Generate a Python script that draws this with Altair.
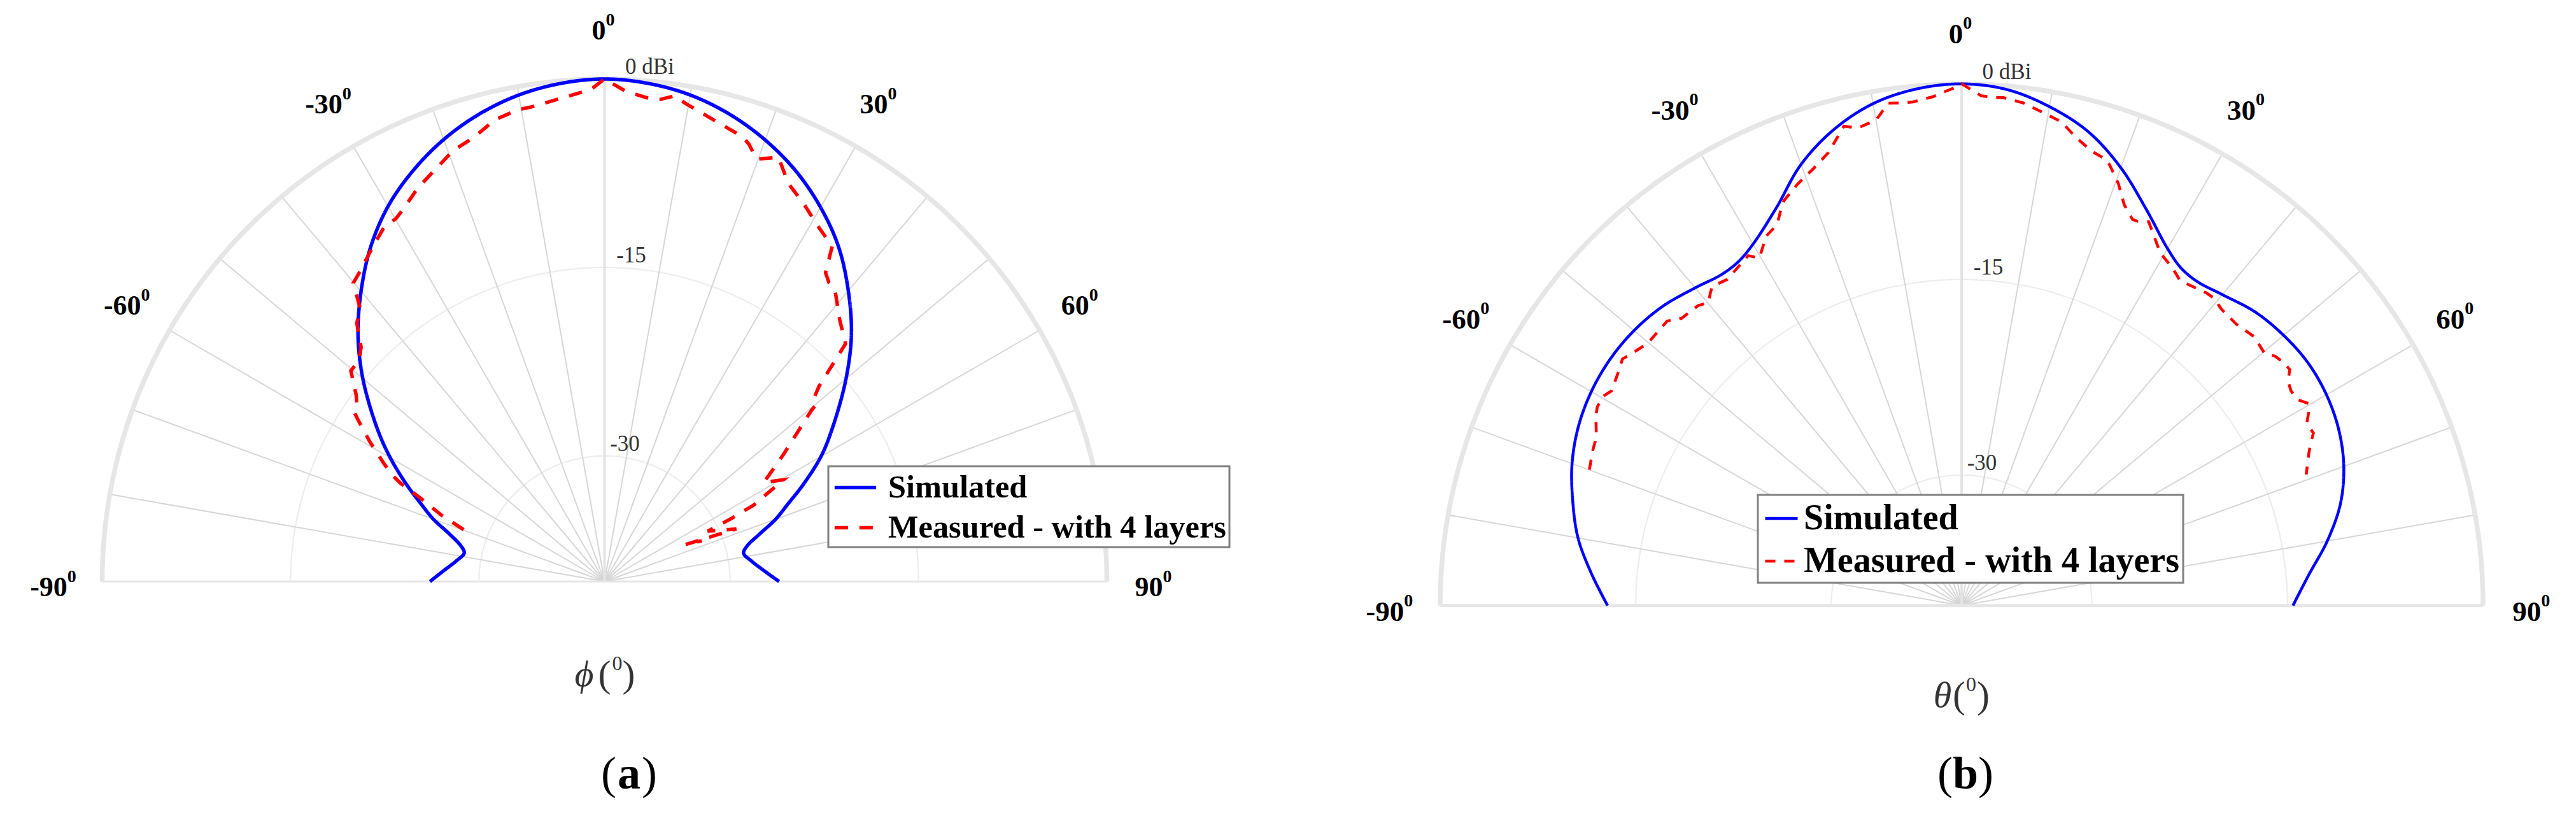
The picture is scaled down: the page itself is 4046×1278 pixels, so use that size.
import altair as alt
import numpy as np
import pandas as pd

SERIES = ['Simulated', 'Measured - with 4 layers']

# panel (a): angle in degrees, gain in dBi
sim_a_angle = [-90, -86, -82, -78.5, -76, -73, -70, -67, -64, -60, -56, -50, -45, -40, -35, -30, -25, -20, -15, -10, -5, 0,
               5, 10, 15, 20, 25, 30, 35, 40, 45, 50, 56, 60, 64, 67, 70, 73, 76, 78.5, 82, 86, 90]
sim_a_db = [-26.1, -27.2, -28.1, -28.6, -28.2, -27.1, -25.5, -24.1, -22.5, -20.3, -18.15, -14.88, -12.24, -9.84, -7.52, -5.52, -3.92, -2.56, -1.48, -0.68, -0.2, 0,
            -0.2, -0.68, -1.5, -2.6, -3.95, -5.6, -7.5, -9.8, -12.2, -14.9, -18.1, -20.1, -22.4, -24.1, -25.5, -27.1, -28.3, -28.7, -28.2, -27.3, -26.1]

meas_a_angle = [-69.8, -67.9, -65.7, -64.3, -63.5, -61.9, -59.3, -56.8, -56.0, -54.8, -53.1, -50.3, -47.9, -46.1, -43.8, -41.8, -40.1, -38.3, -35.1, -31.9, -29.9, -28.4, -25.4, -22.4, -19.4, -16.3, -13.4, -10.4, -8.6, -4.2, -1.6, 0,
                2.5, 5.4, 6.6, 8.2, 9.75, 17.3, 18.3, 19.8, 22.3, 24.8, 27.8, 31.0, 34.2, 35.6, 36.9, 37.8, 38.8, 41.9, 45.4, 47.7, 48.8, 50.1, 50.4, 54.6, 57.1, 58.1, 60.4, 62.9, 63.6, 64.0, 68.3, 67.3, 65.5, 67.3]
meas_a_db = [-28.05, -26.0, -24.0, -22.0, -21.2, -20.1, -18.3, -16.56, -15.99, -15.87, -15.27, -13.75, -13.67, -13.1, -11.5, -10.8, -8.94, -8.57, -7.7, -6.78, -6.68, -6.3, -5.33, -4.56, -3.65, -3.13, -2.23, -1.82, -1.77, -1.25, -0.83, 0,
             -0.95, -1.4, -1.37, -0.95, -1.44, -2.94, -3.35, -4.27, -3.5, -5.1, -6.0, -7.0, -7.75, -9.77, -10.24, -10.3, -10.63, -11.97, -13.05, -16.9, -17.84, -18.04, -18.6, -22.5, -24.4, -25.1, -23.6, -26.7, -28.8, -30.86, -28.7, -30.6, -32.9, -31.6]

# panel (b)
sim_b_angle = [-90, -85, -80, -75, -70, -65, -60, -55, -50, -45, -40, -36, -33, -30, -25, -20, -15, -10, -5, 0,
               5, 10, 15, 20, 25, 30, 33, 36, 40, 45, 50, 55, 60, 65, 70, 75, 80, 85, 90]
sim_b_db = [-12.84, -11.48, -10.12, -9.12, -8.2, -7.56, -7.2, -7.08, -7.2, -7.56, -8.2, -8.64, -8.56, -8.0, -6.36, -4.0, -2.2, -0.92, -0.24, 0,
            -0.28, -1.16, -2.4, -4.28, -6.48, -8.4, -9.12, -9.28, -8.88, -8.16, -7.76, -7.56, -7.68, -8.08, -8.8, -9.92, -11.52, -13.28, -14.58]

meas_b_angle = [-69.95, -67, -65.3, -62.6, -61.4, -59.7, -58.5, -55.7, -54, -52.9, -51.1, -50, -46, -45.5, -44.3, -41.3, -39.9, -38.7, -38, -35.7, -31.4, -30.2, -28.9, -28, -26.5, -25.5, -24.5, -23.7, -21.2, -18.8, -16.4, -13.8, -12.3, -10, -8.3, -6.6, -5.5, -3.2, -1.9, -0.87, 0,
                2.2, 3.4, 4.7, 7, 9.4, 11.7, 13.8, 16.1, 18, 18.6, 20.4, 22.1, 23.9, 24.6, 26, 29.4, 32.1, 34, 34.9, 38.1, 39.4, 41.2, 44.3, 47.4, 50.3, 51.5, 53, 54.3, 55.5, 56.9, 58.5, 59.8, 61, 62.2, 63.9, 65, 66.4, 69.2]
meas_b_db = [-9.6, -9.29, -9.16, -8.4, -8.17, -8.17, -8.5, -8.15, -7.84, -8.1, -8.46, -8.63, -8.6, -8.8, -9.23, -9.38, -9.72, -9.2, -8.94, -9.2, -8.57, -9.16, -8.5, -7.97, -7.68, -7.3, -6.6, -6.09, -5.3, -4.64, -3.8, -2.15, -2.53, -2.2, -1.07, -1.2, -1.2, -0.92, -0.58, -0.32, 0,
             -0.88, -0.96, -0.92, -1.17, -1.69, -2.14, -3.08, -3.78, -4.05, -4.37, -5.49, -6.84, -7.63, -7.59, -7.26, -8.96, -9.5, -10.0, -9.89, -9.55, -9.5, -9.77, -9.84, -9.53, -9.77, -9.28, -9.05, -9.0, -9.62, -9.84, -9.79, -9.2, -9.57, -10.07, -9.95, -10.44, -10.94, -11.72]

tick_angles = [-90, -60, -30, 0, 30, 60, 90]
spoke_angles = list(range(-90, 91, 10))
ring_levels = [-15, -30]
level_labels = ['0 dBi', '-15', '-30']
level_values = [0, -15, -30]
FLOOR = -40


def polar(angle, db):
    angle = np.radians(np.asarray(angle, dtype=float))
    r = (np.asarray(db, dtype=float) - FLOOR) / -FLOOR
    return r * np.sin(angle), r * np.cos(angle)


def curve(angle, db, name):
    x, y = polar(angle, db)
    return pd.DataFrame({'x': x, 'y': y, 'idx': range(len(x)), 'series': name})


def panel(sim, meas, cx, cy, R, left, symbol, style):
    W, H = 2015, 1262
    top = 8
    X = alt.X('x:Q', axis=None, scale=alt.Scale(domain=[(left - cx) / R, (left + W - cx) / R], nice=False, zero=False))
    Y = alt.Y('y:Q', axis=None, scale=alt.Scale(domain=[(cy - top - H) / R, (cy - top) / R], nice=False, zero=False))

    def lines(df, color, width):
        return alt.Chart(df).mark_line(color=color, strokeWidth=width, strokeCap='butt', clip=False).encode(
            x=X, y=Y, detail='g:N', order='idx:Q')

    def text(rows, **mark):
        mark.setdefault('align', 'center')
        return alt.Chart(pd.DataFrame(rows)).mark_text(font='Liberation Serif', baseline='middle', **mark).encode(
            x=X, y=Y, text='t:N')

    # grid
    arc = np.arange(-90, 90.5, 1.0)
    ring_rows = []
    for level in ring_levels:
        x, y = polar(arc, [level] * len(arc))
        ring_rows.append(pd.DataFrame({'x': x, 'y': y, 'idx': range(len(x)), 'g': level}))
    x, y = polar(arc, [0] * len(arc))
    outer = pd.DataFrame({'x': x, 'y': y, 'idx': range(len(x)), 'g': 0})
    spoke_rows = []
    for a in spoke_angles:
        if a in (-90, 0, 90):
            continue
        x, y = polar([a, a], [FLOOR, 0])
        spoke_rows.append(pd.DataFrame({'x': x, 'y': y, 'idx': [0, 1], 'g': a}))
    x, y = polar([0, 0], [FLOOR, 0])
    vertical = pd.DataFrame({'x': x, 'y': y, 'idx': [0, 1], 'g': 0})
    x, y = polar([-90, 90], [0, 0])
    base = pd.DataFrame({'x': x, 'y': y, 'idx': [0, 1], 'g': 0})

    grid = [
        lines(pd.concat(ring_rows), '#ededed', 2.2),
        lines(pd.concat(spoke_rows), '#d6d6d6', 2),
        lines(vertical, '#e4e4e4', 4),
        lines(base, '#e6e6e6', style['base']),
        lines(outer, '#e6e6e6', 7.5),
    ]

    # curves
    color = alt.Color('series:N', title=None, scale=alt.Scale(domain=SERIES, range=['#0000ff', '#ff0000']),
                      legend=alt.Legend(orient='none', legendX=style['lx'], legendY=style['ly'], fillColor='white',
                                        strokeColor='#808080', labelFont='Liberation Serif', labelFontWeight='bold',
                                        labelFontSize=style['lfs'], labelColor='black', symbolType=style['path'],
                                        symbolSize=style['sym'], symbolStrokeWidth=style['w'], rowPadding=style['row'],
                                        padding=style['pad'], labelOffset=style['lo'], symbolOffset=style['so'],
                                        labelLimit=900, symbolOpacity=1))
    dash = alt.StrokeDash('series:N', title=None, scale=alt.Scale(domain=SERIES, range=[[1, 0], style['dash']]))
    sim_line = alt.Chart(sim).mark_line(strokeWidth=style['sw'], interpolate='catmull-rom', clip=False).encode(
        x=X, y=Y, order='idx:Q', color=color, strokeDash=dash)
    meas_line = alt.Chart(meas).mark_line(strokeWidth=style['w'], clip=False).encode(
        x=X, y=Y, order='idx:Q', color=color, strokeDash=dash)

    # angle labels: number plus a small raised zero
    fs = style['tfs']
    rows, sup_rows = [], []
    for a in tick_angles:
        x, y = polar(a, 0)
        shift = -10 / R if abs(a) == 90 else 0
        cxr, cyr = float(x) * 1.095, float(y) * 1.095 + shift
        label = str(a)
        w = fs * (0.5 * len(label.lstrip('-')) + (0.333 if a < 0 else 0))
        total = w + 18
        rows.append({'x': cxr + (total / 2 - 18) / R, 'y': cyr, 't': label})
        sup_rows.append({'x': cxr + (total / 2 - 18) / R, 'y': cyr + 17 / R, 't': '0'})
    ticks = text(rows, fontSize=fs, fontWeight='bold', color='black', align='right')
    sups = text(sup_rows, fontSize=28, fontWeight='bold', color='black', align='left')

    # level labels
    rows = []
    for t, v, off in zip(level_labels, level_values, [71, 42, 32]):
        _, y = polar(0, v)
        rows.append({'x': off / R, 'y': float(y) + 19 / R, 't': t})
    levels = text(rows, fontSize=35, color='#333333')

    # under-plot captions
    ax_y = (cy - style['ay']) / R
    off = style['ax']
    sym = text([{'x': off[0] / R, 'y': ax_y, 't': symbol}], fontSize=58, fontStyle='italic', color='#333333')
    par = text([{'x': off[1] / R, 'y': ax_y, 't': '('}, {'x': off[3] / R, 'y': ax_y, 't': ')'}], fontSize=60, color='#333333')
    sup0 = text([{'x': off[2] / R, 'y': ax_y + 18 / R, 't': '0'}], fontSize=32, color='#333333')
    cap_y = (cy - 1216) / R
    c0 = (style['cx'] - cx) / R
    cap1 = text([{'x': c0 - 32 / R, 'y': cap_y, 't': '('}, {'x': c0 + 32 / R, 'y': cap_y, 't': ')'}], fontSize=72, color='black')
    cap2 = text([{'x': c0, 'y': cap_y, 't': style['letter']}], fontSize=72, fontWeight='bold', color='black')

    return alt.layer(*grid, sim_line, meas_line, ticks, sups, levels, sym, par, sup0, cap1, cap2).properties(width=W, height=H)


a = panel(curve(sim_a_angle, sim_a_db, SERIES[0]), curve(meas_a_angle, meas_a_db, SERIES[1]),
          949.5, 913, 789, 8, '\u03d5',
          dict(base=3, lx=1293, ly=724, lfs=50.4, sym=2600, path='M-1.28,0H1.28', w=5.5, sw=5.5, row=9, pad=5, lo=23, so=9,
               dash=[21, 18], tfs=44, ay=1060, ax=[-32, 0, 20, 38], cx=988, letter='a'))
b = panel(curve(sim_b_angle, sim_b_db, SERIES[0]), curve(meas_b_angle, meas_b_db, SERIES[1]),
          3081, 950.7, 819, 2023, '\u03b8',
          dict(base=5, lx=738, ly=769, lfs=56, sym=3250, path='M-0.895,0H0.895', w=4.5, sw=4.5, row=8, pad=6, lo=4, so=0,
               dash=[16, 14], tfs=45, ay=1093, ax=[-30, -4, 15, 34], cx=3087, letter='b'))

chart = (alt.hconcat(a, b, spacing=0)
         .resolve_scale(color='independent', strokeDash='independent')
         .properties(padding=0)
         .configure_view(strokeWidth=0)
         .configure_legend(strokeWidth=3))
chart.save("out.html", embed_options={"renderer": "svg", "actions": False})
